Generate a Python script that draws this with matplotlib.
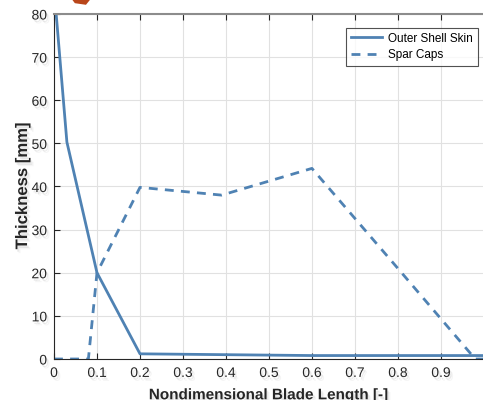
import matplotlib
matplotlib.use("Agg")
import matplotlib.pyplot as plt
import matplotlib.patheffects as pe
from matplotlib.patches import Polygon

# blade thickness distributions
station_skin = [0.0, 0.03, 0.1, 0.2, 0.4, 0.6, 1.0]
thick_skin = [86.0, 50.3, 20.0, 1.2, 1.0, 0.8, 0.8]

station_spar = [0.0, 0.08, 0.1, 0.2, 0.39, 0.6, 0.8, 0.98, 1.0]
thick_spar = [0.0, 0.0, 20.0, 39.8, 38.0, 44.2, 21.0, 0.0, 0.0]

xticks = [0, 0.1, 0.2, 0.3, 0.4, 0.5, 0.6, 0.7, 0.8, 0.9]
xtick_labels = ["0", "0.1", "0.2", "0.3", "0.4", "0.5", "0.6", "0.7", "0.8", "0.9"]
yticks = [0, 10, 20, 30, 40, 50, 60, 70, 80]

LINE_COLOR = "#4f82b3"
plt.rcParams["font.family"] = ["Liberation Sans", "DejaVu Sans"]

shadow = [pe.SimplePatchShadow(offset=(1.2, -1.8), shadow_rgbFace="#b0b0b0", alpha=0.25),
          pe.SimplePatchShadow(offset=(2.2, -2.8), shadow_rgbFace="#c8c8c8", alpha=0.18),
          pe.Normal()]

fig = plt.figure(figsize=(4.83, 4.0), dpi=100)
ax = fig.add_axes([0.1118, 0.1025, 0.890, 0.8625])

ax.plot(station_skin, thick_skin, color=LINE_COLOR, lw=2.0, label="Outer Shell Skin")
ax.plot(station_spar, thick_spar, color=LINE_COLOR, lw=2.0, ls=(0, (3.2, 2.6)),
        label="Spar Caps")

ax.set_xlim(0, 1)
ax.set_ylim(0, 80)
ax.set_xticks(xticks)
ax.set_xticklabels(xtick_labels)
ax.set_yticks(yticks)
ax.grid(True, color="#e1e1e1", lw=0.8)
ax.set_axisbelow(True)

ax.tick_params(direction="in", top=True, right=False, length=4, width=0.8,
               colors="#262626", labelsize=10, pad=5)
for lab in ax.get_xticklabels() + ax.get_yticklabels():
    lab.set_path_effects(shadow)
    lab.set_color("#262626")

for side in ("left", "bottom"):
    ax.spines[side].set_color("#262626")
    ax.spines[side].set_linewidth(0.8)
ax.spines["top"].set_color("#8c8c8c")
ax.spines["top"].set_linewidth(1.5)
ax.spines["right"].set_visible(False)

ax.set_xlabel("Nondimensional Blade Length [-]", fontsize=11, fontweight="bold",
              color="#262626", labelpad=6, path_effects=shadow)
ax.set_ylabel("Thickness [mm]", fontsize=12, fontweight="bold", color="#262626",
              labelpad=1, path_effects=shadow)

leg = ax.legend(loc="upper right", bbox_to_anchor=(0.986, 0.96), fontsize=8.5,
                frameon=True, fancybox=False, edgecolor="#262626",
                handlelength=2.7, borderpad=0.4, labelspacing=0.4,
                handletextpad=0.5, borderaxespad=0)
leg.get_frame().set_linewidth(0.8)

# small orange marker at the top edge
fig.patches.append(Polygon([[0.150, 1.0], [0.186, 1.0], [0.178, 0.988], [0.155, 0.992]],
                           closed=True, transform=fig.transFigure,
                           facecolor="#b9461a", edgecolor="none"))

fig.savefig("out.png", dpi=100)
